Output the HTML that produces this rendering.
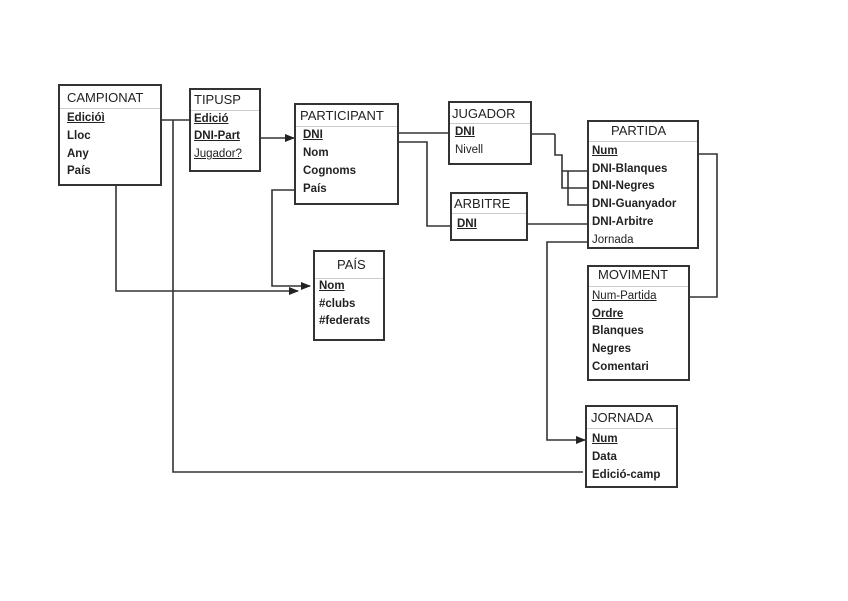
<!DOCTYPE html>
<html><head><meta charset="utf-8"><style>
body{margin:0;width:848px;height:601px;background:#fff;position:relative;overflow:hidden;font-family:"Liberation Sans",Arial,sans-serif;}
.b{position:absolute;border:2px solid #333;box-sizing:border-box;background:#fff;}
.t{position:absolute;font-size:13px;color:#222;white-space:nowrap;}
.r{position:absolute;font-size:11.5px;font-weight:bold;color:#222;white-space:nowrap;}
.u{text-decoration:underline;}
svg{position:absolute;left:0;top:0;}
.h{position:absolute;border-top:1px solid #ccc;}
</style></head><body>
<svg width="848" height="601" stroke="#333" stroke-width="1.6" fill="none">
<defs><marker id="a" markerWidth="10" markerHeight="8" refX="9" refY="4" orient="auto" markerUnits="userSpaceOnUse"><path d="M0,0 L10,4 L0,8 z" fill="#222" stroke="none"/></marker></defs>
<path d="M190,120 H136" marker-end="url(#a)"/>
<path d="M173,120 V472 H583"/>
<path d="M258,138 H294" marker-end="url(#a)"/>
<path d="M449,133 H380" marker-end="url(#a)"/>
<path d="M451,226 H427 V142 H355" marker-end="url(#a)"/>
<path d="M104,173 H116 V291 H298" marker-end="url(#a)"/>
<path d="M297,190 H272 V286 H310" marker-end="url(#a)"/>
<path d="M555,134 H515" marker-end="url(#a)"/>
<path d="M555,134 V155 H562 V171 H588 M562,171 V188 H568 M568,171 V188 H588 M568,188 V205 H574 V205 H588"/>
<path d="M588,224 H515" marker-end="url(#a)"/>
<path d="M588,242 H547 V440 H585" marker-end="url(#a)"/>
<path d="M674,297 H717 V154 H678" marker-end="url(#a)"/>
</svg>

<div class="b" style="left:58px;top:84px;width:104px;height:102px"></div>
<div class="h" style="left:60px;top:108px;width:100px"></div>
<div class="t" style="left:67px;top:90px">CAMPIONAT</div>
<div class="r u" style="left:67px;top:112px">Edicióì</div>
<div class="r" style="left:67px;top:130px">Lloc</div>
<div class="r" style="left:67px;top:148px">Any</div>
<div class="r" style="left:67px;top:165px">País</div>

<div class="b" style="left:189px;top:88px;width:72px;height:84px"></div>
<div class="h" style="left:191px;top:110px;width:68px"></div>
<div class="t" style="left:194px;top:92px">TIPUSP</div>
<div class="r u" style="left:194px;top:113px">Edició</div>
<div class="r u" style="left:194px;top:130px">DNI-Part</div>
<div class="r u" style="left:194px;top:148px;font-weight:normal">Jugador?</div>

<div class="b" style="left:294px;top:103px;width:105px;height:102px"></div>
<div class="h" style="left:296px;top:126px;width:101px"></div>
<div class="t" style="left:300px;top:108px">PARTICIPANT</div>
<div class="r u" style="left:303px;top:129px">DNI</div>
<div class="r" style="left:303px;top:147px">Nom</div>
<div class="r" style="left:303px;top:165px">Cognoms</div>
<div class="r" style="left:303px;top:183px">País</div>

<div class="b" style="left:448px;top:101px;width:84px;height:64px"></div>
<div class="h" style="left:450px;top:123px;width:80px"></div>
<div class="t" style="left:452px;top:106px">JUGADOR</div>
<div class="r u" style="left:455px;top:126px">DNI</div>
<div class="r" style="left:455px;top:144px;font-weight:normal">Nivell</div>

<div class="b" style="left:450px;top:192px;width:78px;height:49px"></div>
<div class="h" style="left:452px;top:213px;width:74px"></div>
<div class="t" style="left:454px;top:196px">ARBITRE</div>
<div class="r u" style="left:457px;top:218px">DNI</div>

<div class="b" style="left:587px;top:120px;width:112px;height:129px"></div>
<div class="h" style="left:589px;top:141px;width:108px"></div>
<div class="t" style="left:611px;top:123px">PARTIDA</div>
<div class="r u" style="left:592px;top:145px">Num</div>
<div class="r" style="left:592px;top:163px">DNI-Blanques</div>
<div class="r" style="left:592px;top:180px">DNI-Negres</div>
<div class="r" style="left:592px;top:198px">DNI-Guanyador</div>
<div class="r" style="left:592px;top:216px">DNI-Arbitre</div>
<div class="r" style="left:592px;top:234px;font-weight:normal">Jornada</div>

<div class="b" style="left:313px;top:250px;width:72px;height:91px"></div>
<div class="h" style="left:315px;top:278px;width:68px"></div>
<div class="t" style="left:337px;top:257px">PAÍS</div>
<div class="r u" style="left:319px;top:280px">Nom</div>
<div class="r" style="left:319px;top:298px">#clubs</div>
<div class="r" style="left:319px;top:315px">#federats</div>

<div class="b" style="left:587px;top:265px;width:103px;height:116px"></div>
<div class="h" style="left:589px;top:286px;width:99px"></div>
<div class="t" style="left:598px;top:267px">MOVIMENT</div>
<div class="r u" style="left:592px;top:290px;font-weight:normal">Num-Partida</div>
<div class="r u" style="left:592px;top:308px">Ordre</div>
<div class="r" style="left:592px;top:325px">Blanques</div>
<div class="r" style="left:592px;top:343px">Negres</div>
<div class="r" style="left:592px;top:361px">Comentari</div>

<div class="b" style="left:585px;top:405px;width:93px;height:83px"></div>
<div class="h" style="left:587px;top:428px;width:89px"></div>
<div class="t" style="left:591px;top:410px">JORNADA</div>
<div class="r u" style="left:592px;top:433px">Num</div>
<div class="r" style="left:592px;top:451px">Data</div>
<div class="r" style="left:592px;top:469px">Edició-camp</div>
</body></html>
